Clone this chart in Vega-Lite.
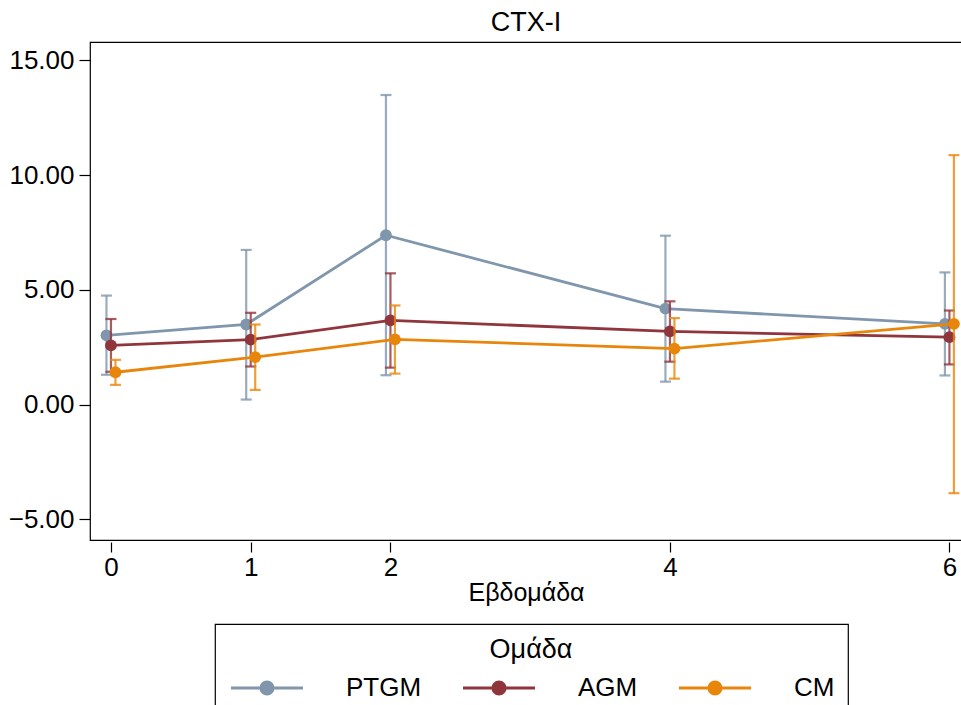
{
  "$schema": "https://vega.github.io/schema/vega-lite/v6.json",
  "width": 872,
  "height": 498,
  "autosize": {"type": "none"},
  "padding": {"left": 90, "top": 42, "right": 0, "bottom": 165},
  "background": "white",
  "title": {"text": "CTX-I", "fontSize": 27, "font": "Liberation Sans", "fontWeight": "normal", "color": "black", "anchor": "middle", "offset": 5},
  "data": {
    "values": [
      {"g": "PTGM", "week": 0, "mean": 3.02, "lo": 1.30, "hi": 4.75},
      {"g": "PTGM", "week": 1, "mean": 3.49, "lo": 0.22, "hi": 6.74},
      {"g": "PTGM", "week": 2, "mean": 7.38, "lo": 1.28, "hi": 13.49},
      {"g": "PTGM", "week": 4, "mean": 4.18, "lo": 1.00, "hi": 7.36},
      {"g": "PTGM", "week": 6, "mean": 3.52, "lo": 1.27, "hi": 5.76},
      {"g": "AGM", "week": 0, "mean": 2.58, "lo": 1.43, "hi": 3.73},
      {"g": "AGM", "week": 1, "mean": 2.83, "lo": 1.66, "hi": 4.00},
      {"g": "AGM", "week": 2, "mean": 3.67, "lo": 1.61, "hi": 5.72},
      {"g": "AGM", "week": 4, "mean": 3.19, "lo": 1.87, "hi": 4.50},
      {"g": "AGM", "week": 6, "mean": 2.94, "lo": 1.75, "hi": 4.10},
      {"g": "CM", "week": 0, "mean": 1.41, "lo": 0.86, "hi": 1.95},
      {"g": "CM", "week": 1, "mean": 2.07, "lo": 0.64, "hi": 3.49},
      {"g": "CM", "week": 2, "mean": 2.84, "lo": 1.35, "hi": 4.32},
      {"g": "CM", "week": 4, "mean": 2.44, "lo": 1.13, "hi": 3.77},
      {"g": "CM", "week": 6, "mean": 3.52, "lo": -3.86, "hi": 10.87}
    ]
  },
  "encoding": {
    "x": {"field": "week", "type": "quantitative",
      "scale": {"domain": [-0.15, 6.09], "nice": false, "zero": false},
      "axis": {"title": "Εβδομάδα", "values": [0, 1, 2, 4, 6], "grid": false, "domain": false, "tickSize": 10, "offset": 2, "labelPadding": 2, "titlePadding": 0, "labelFontSize": 26, "titleFontSize": 25}},
    "color": {"field": "g", "type": "nominal",
      "scale": {"domain": ["PTGM", "AGM", "CM"], "range": ["#8096ad", "#90353b", "#e8860c"]},
      "legend": {"title": "Ομάδα", "orient": "none", "legendX": 125, "legendY": 582, "direction": "horizontal", "columns": 3}}
  },
  "layer": [
    {
      "transform": [{"filter": "datum.g === 'PTGM'"}],
      "layer": [
        {"mark": {"type": "rule", "strokeWidth": 2.2, "opacity": 0.8, "xOffset": -4.5}, "encoding": {
          "y": {"field": "lo", "type": "quantitative", "scale": {"domain": [-5.9, 15.8], "nice": false, "zero": false},
            "axis": {"title": null, "values": [-5, 0, 5, 10, 15], "format": ".2f", "grid": false, "domain": false, "tickSize": 11, "labelPadding": 5, "labelFontSize": 26}},
          "y2": {"field": "hi"}}},
        {"mark": {"type": "tick", "orient": "horizontal", "size": 11, "thickness": 2.2, "opacity": 0.8, "xOffset": -4.5}, "encoding": {"y": {"field": "lo", "type": "quantitative", "scale": {"domain": [-5.9, 15.8], "nice": false, "zero": false}}}},
        {"mark": {"type": "tick", "orient": "horizontal", "size": 11, "thickness": 2.2, "opacity": 0.8, "xOffset": -4.5}, "encoding": {"y": {"field": "hi", "type": "quantitative", "scale": {"domain": [-5.9, 15.8], "nice": false, "zero": false}}}},
        {"mark": {"type": "line", "strokeWidth": 2.8, "xOffset": -4.5}, "encoding": {"y": {"field": "mean", "type": "quantitative", "scale": {"domain": [-5.9, 15.8], "nice": false, "zero": false}}}},
        {"mark": {"type": "point", "filled": true, "shape": "circle", "size": 140, "opacity": 1, "xOffset": -4.5}, "encoding": {"y": {"field": "mean", "type": "quantitative", "scale": {"domain": [-5.9, 15.8], "nice": false, "zero": false}}}}
      ]
    },
    {
      "transform": [{"filter": "datum.g === 'AGM'"}],
      "layer": [
        {"mark": {"type": "rule", "strokeWidth": 2.2, "opacity": 0.8}, "encoding": {"y": {"field": "lo", "type": "quantitative", "scale": {"domain": [-5.9, 15.8], "nice": false, "zero": false}}, "y2": {"field": "hi"}}},
        {"mark": {"type": "tick", "orient": "horizontal", "size": 11, "thickness": 2.2, "opacity": 0.8}, "encoding": {"y": {"field": "lo", "type": "quantitative", "scale": {"domain": [-5.9, 15.8], "nice": false, "zero": false}}}},
        {"mark": {"type": "tick", "orient": "horizontal", "size": 11, "thickness": 2.2, "opacity": 0.8}, "encoding": {"y": {"field": "hi", "type": "quantitative", "scale": {"domain": [-5.9, 15.8], "nice": false, "zero": false}}}},
        {"mark": {"type": "line", "strokeWidth": 2.8}, "encoding": {"y": {"field": "mean", "type": "quantitative", "scale": {"domain": [-5.9, 15.8], "nice": false, "zero": false}}}},
        {"mark": {"type": "point", "filled": true, "shape": "circle", "size": 140, "opacity": 1}, "encoding": {"y": {"field": "mean", "type": "quantitative", "scale": {"domain": [-5.9, 15.8], "nice": false, "zero": false}}}}
      ]
    },
    {
      "transform": [{"filter": "datum.g === 'CM'"}],
      "layer": [
        {"mark": {"type": "rule", "strokeWidth": 2.2, "opacity": 0.8, "xOffset": 4.5}, "encoding": {"y": {"field": "lo", "type": "quantitative", "scale": {"domain": [-5.9, 15.8], "nice": false, "zero": false}}, "y2": {"field": "hi"}}},
        {"mark": {"type": "tick", "orient": "horizontal", "size": 11, "thickness": 2.2, "opacity": 0.8, "xOffset": 4.5}, "encoding": {"y": {"field": "lo", "type": "quantitative", "scale": {"domain": [-5.9, 15.8], "nice": false, "zero": false}}}},
        {"mark": {"type": "tick", "orient": "horizontal", "size": 11, "thickness": 2.2, "opacity": 0.8, "xOffset": 4.5}, "encoding": {"y": {"field": "hi", "type": "quantitative", "scale": {"domain": [-5.9, 15.8], "nice": false, "zero": false}}}},
        {"mark": {"type": "line", "strokeWidth": 2.8, "xOffset": 4.5}, "encoding": {"y": {"field": "mean", "type": "quantitative", "scale": {"domain": [-5.9, 15.8], "nice": false, "zero": false}}}},
        {"mark": {"type": "point", "filled": true, "shape": "circle", "size": 140, "opacity": 1, "xOffset": 4.5}, "encoding": {"y": {"field": "mean", "type": "quantitative", "scale": {"domain": [-5.9, 15.8], "nice": false, "zero": false}}}}
      ]
    }
  ],
  "resolve": {"scale": {"y": "shared"}},
  "config": {
    "font": "Liberation Sans",
    "view": {"stroke": "black", "strokeWidth": 1.2},
    "axis": {"labelFont": "Liberation Sans", "labelFontSize": 26, "labelColor": "black", "titleFont": "Liberation Sans", "titleFontSize": 25, "titleFontWeight": "normal", "titleColor": "black", "tickColor": "black", "domainColor": "black", "tickWidth": 1.2, "grid": false},
    "legend": {
      "fillColor": "white", "strokeColor": "black", "strokeWidth": 1.2, "padding": 13,
      "titleFont": "Liberation Sans", "titleFontSize": 27, "titleFontWeight": "normal", "titleColor": "black", "titleAnchor": "middle", "titlePadding": 11,
      "labelFont": "Liberation Sans", "labelFontSize": 26, "labelColor": "black", "labelOffset": 66,
      "symbolType": "M-3.6,0H3.6M-0.62,0a0.62,0.62 0 1,0 1.24,0a0.62,0.62 0 1,0 -1.24,0",
      "symbolSize": 400, "symbolOffset": 26, "symbolStrokeWidth": 2.8, "symbolOpacity": 1,
      "columnPadding": 35
    }
  }
}
